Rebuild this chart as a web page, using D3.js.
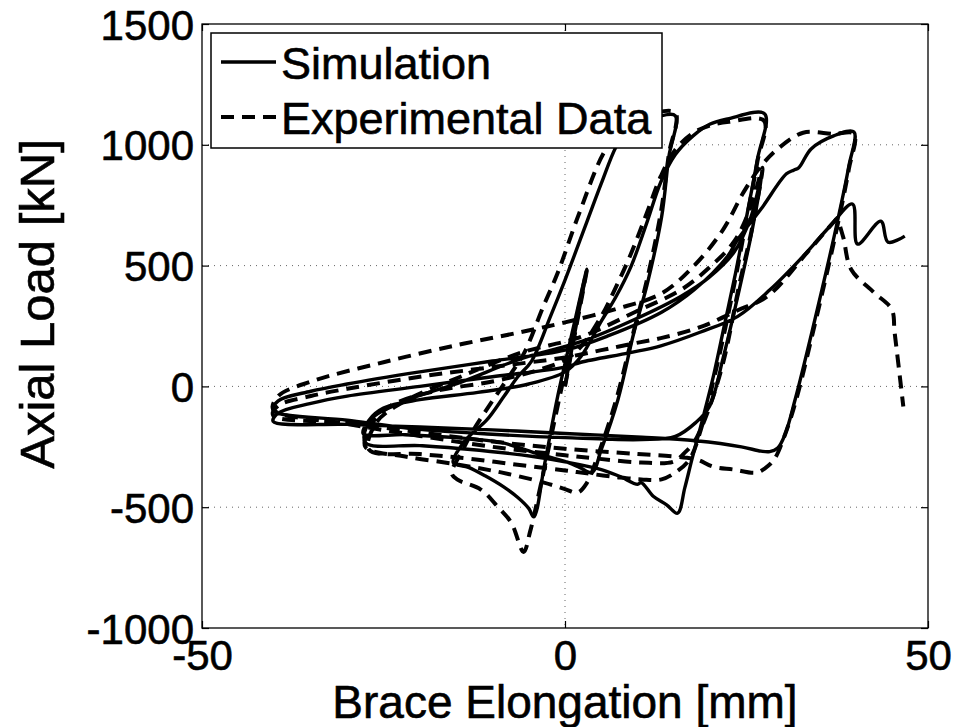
<!DOCTYPE html>
<html>
<head>
<meta charset="utf-8">
<script src="https://cdn.jsdelivr.net/npm/d3@7"></script>
<style>
  body { margin: 0; background: #fff; }
  text { font-family: "Liberation Sans", Arial, sans-serif; fill: #000; stroke: #000; stroke-width: 0.6px; }
</style>
</head>
<body>
<script>
// axis ticks
var xTicks = [-50, 0, 50];
var yTicks = [-1000, -500, 0, 500, 1000, 1500];

// simulation: brace elongation [mm] and axial load [kN], in loading order
var simElong = [0, 1.5, 3,
  1.2, -1, -2.8, -4.3,
  -5, -6.5, -8.5, -11, -13.3, -15.4,
  -14.4, -13, -10.8, -8.4, -6.5, -4.6, -2, 0, 3, 5, 7, 8.5, 10.5, 12.5, 15.2,
  14.3, 13.3, 11.3, 9.5, 7.3, 5, 3.7,
  2, 0.4, -4.3, -8.8, -15, -22, -27.8,
  -27, -25, -20, -12, -5, 0, 2.2, 5, 7, 9.1, 11.3, 13.2, 15.2, 17.6, 20, 22.4, 27.5,
  26.5, 25, 23.5, 22, 20.5, 19, 17.5, 16.5, 15.5,
  14, 12.2, 10.5, 10, 7.5, 5, 0, -4.4, -13.4, -20, -27.5,
  -26.8, -22, -14.4, -6, 2.2, 9.8, 16, 19.8, 23.3, 25.6, 27.2,
  25.8, 24, 21.8, 19.9, 18, 15.2, 10.6, 0, -10, -20, -30, -40.2,
  -39.5, -35, -30, -20, -10, 0, 6, 13.3, 17.8, 22.4, 23.8, 27, 30.5, 31.5, 32.2, 33.9, 37, 39.8,
  39.1, 37.2, 34, 31.7, 30.3, 29.3, 28.2, 27, 24.3, 18, 10.6, 0, -10, -20, -30, -40.2,
  -39.5, -35, -30, -20, -10, 0, 2.2, 9, 13.2, 18.6, 23.8, 28.3, 32.8, 36.5, 39.6,
  40.3, 43.5, 44.5, 46.8];
var simLoad = [0, 245, 485,
  250, -40, -320, -540,
  -505, -460, -415, -370, -335, -315,
  -250, -200, -140, -41, 40, 105, 290, 440, 680, 840, 990, 1060, 1100, 1115, 1120,
  950, 700, 420, 224, -54, -261, -357,
  -335, -315, -274, -232, -212, -200, -195,
  -140, -90, -55, -25, 10, 60, 124, 270, 370, 497, 680, 846, 960, 1036, 1086, 1107, 1128,
  940, 700, 470, 260, 50, -130, -300, -420, -525,
  -490, -456, -398, -405, -372, -344, -312, -290, -260, -245, -232,
  -140, -60, 17, 115, 185, 280, 373, 450, 556, 700, 890,
  650, 400, 120, -83, -150, -207, -220, -212, -198, -178, -140, -100,
  -60, -20, 10, 60, 105, 150, 210, 307, 400, 539, 609, 734, 880, 895, 905, 983, 1037, 1053,
  912, 638, 224, -54, -200, -255, -270, -268, -250, -225, -210, -195, -180, -168, -157, -145,
  -110, -70, -40, 0, 40, 80, 100, 140, 168, 224, 290, 402, 539, 663, 755,
  589, 684, 597, 622];

// experimental data
var expElong = [0, 1.5, 3,
  1, -1.5, -3.5, -4.8, -5.7,
  -7.4, -9.3, -11.6, -14.8, -15.6,
  -14.2, -12.8, -10, -7.5, -5.6, -3, -1, 2, 5.5, 8.5, 11.5, 15.2,
  14.3, 13.2, 11.2, 9.3, 7, 4.6, 3, 1.7, 0, -2.9, -8.8, -15, -22, -27.5,
  -26.5, -24, -18, -10, -4, 0, 2.2, 5, 7, 9.1, 11.3, 13.2, 15.2, 17.6, 20, 22.6, 27.4,
  26.5, 25, 23.5, 22, 20.5, 18.8, 17.2, 15.5, 13.3,
  10.5, 7, 3, 0, -5, -13, -20, -27,
  -26, -22, -14.4, -6, 2.2, 9.8, 16, 19.8, 23.3, 25.6, 27.2,
  25.8, 24, 21.8, 19.6, 17.8, 16.5, 15, 10.5, 4.8, 0, -10, -20, -30, -40.2,
  -39.5, -35, -25, -15, -6.2, 0, 7, 13.3, 17.8, 21.8, 24.6, 27, 29.3, 32.8, 37, 39.8,
  39.1, 37.2, 34.2, 31.8, 30.3, 28.8, 27.5, 26.3, 23.2, 20.4, 18.2, 15, 10, 0, -10, -20, -30, -40.2,
  -39.5, -35, -30, -20, -10, 0, 5, 9, 13.2, 18.6, 23.8, 27.9, 33.4, 37, 37.4,
  38.3, 39.4, 42.5, 45, 45.4, 46.6];
var expLoad = [0, 240, 480,
  200, -150, -430, -600, -685,
  -564, -497, -427, -386, -360,
  -270, -190, -60, 50, 140, 330, 470, 720, 975, 1085, 1125, 1132,
  960, 720, 430, 210, -60, -280, -400, -440, -425, -398, -356, -322, -290, -250,
  -150, -80, -20, 20, 65, 110, 165, 290, 410, 550, 720, 870, 980, 1048, 1080, 1095, 1100,
  930, 690, 450, 230, 30, -170, -300, -350, -385,
  -385, -375, -360, -348, -330, -300, -280, -262,
  -150, -60, 40, 140, 205, 310, 400, 490, 600, 745, 905,
  660, 420, 100, -110, -230, -274, -311, -315, -300, -285, -250, -205, -155, -95,
  -40, 20, 100, 170, 224, 265, 320, 385, 500, 650, 804, 912, 983, 1050, 1045, 1045,
  900, 620, 230, -60, -200, -303, -340, -357, -344, -332, -303, -290, -280, -258, -228, -190, -152, -120,
  -80, -40, -10, 40, 80, 120, 150, 175, 200, 245, 315, 373, 556, 680, 692,
  620, 485, 390, 319, 224, -83];

var margin = {top: 24, right: 25, bottom: 99, left: 202};
var width = 953, height = 727;
var w = width - margin.left - margin.right;
var h = height - margin.top - margin.bottom;

var svg = d3.select("body").append("svg")
    .attr("width", width)
    .attr("height", height);

var g = svg.append("g")
    .attr("transform", "translate(" + margin.left + "," + margin.top + ")");

var x = d3.scaleLinear().domain([-50, 50]).range([0, w]);
var y = d3.scaleLinear().domain([-1000, 1500]).range([h, 0]);

// dotted grid
g.selectAll(".hgrid")
    .data(yTicks.slice(1, -1))
  .enter().append("line")
    .attr("x1", 0).attr("x2", w)
    .attr("y1", function(d) { return y(d); })
    .attr("y2", function(d) { return y(d); })
    .attr("stroke", "#666").attr("stroke-width", 1)
    .attr("stroke-dasharray", "1,5");
g.selectAll(".vgrid")
    .data(xTicks.slice(1, -1))
  .enter().append("line")
    .attr("y1", 0).attr("y2", h)
    .attr("x1", function(d) { return x(d); })
    .attr("x2", function(d) { return x(d); })
    .attr("stroke", "#666").attr("stroke-width", 1)
    .attr("stroke-dasharray", "1,5");

// data lines
var line = d3.line()
    .x(function(d) { return x(d[0]); })
    .y(function(d) { return y(d[1]); })
    .curve(d3.curveCatmullRom.alpha(0.5));

var simPts = simElong.map(function(v, i) { return [v, simLoad[i]]; });
var expPts = expElong.map(function(v, i) { return [v, expLoad[i]]; });

g.append("path")
    .datum(expPts)
    .attr("d", line)
    .attr("fill", "none")
    .attr("stroke", "#000")
    .attr("stroke-width", 4)
    .attr("stroke-dasharray", "13,8");

g.append("path")
    .datum(simPts)
    .attr("d", line)
    .attr("fill", "none")
    .attr("stroke", "#000")
    .attr("stroke-width", 3.4)
    .attr("stroke-linejoin", "round");

// axes, ticks pointing inward like matlab
var fmt = function(d) { return String(d); };
var xAxis = d3.axisBottom(x).tickValues(xTicks).tickFormat(fmt).tickSizeInner(-7).tickSizeOuter(0).tickPadding(12);
var yAxis = d3.axisLeft(y).tickValues(yTicks).tickFormat(fmt).tickSizeInner(-7).tickSizeOuter(0).tickPadding(8);

var gx = g.append("g").attr("transform", "translate(0," + h + ")").call(xAxis);
var gy = g.append("g").call(yAxis);
g.append("g").call(d3.axisTop(x).tickValues(xTicks).tickSizeInner(-7).tickSizeOuter(0).tickFormat(""));
g.append("g").attr("transform", "translate(" + w + ",0)")
    .call(d3.axisRight(y).tickValues(yTicks).tickSizeInner(-7).tickSizeOuter(0).tickFormat(""));

g.append("rect")
    .attr("width", w).attr("height", h)
    .attr("fill", "none").attr("stroke", "#000").attr("stroke-width", 1.3);

g.selectAll(".domain").remove();
g.selectAll(".tick line").attr("stroke", "#000").attr("stroke-width", 1.2);
gx.selectAll("text").style("font-size", "42px").attr("dy", "0.72em");
gy.selectAll("text").style("font-size", "42px").attr("dy", "0.36em");
g.selectAll(".tick text").attr("fill", "#000").style("font-family", "'Liberation Sans', Arial, sans-serif");

// axis labels
svg.append("text")
    .attr("text-anchor", "middle")
    .attr("x", margin.left + w / 2)
    .attr("y", 718)
    .style("font-size", "46px")
    .text("Brace Elongation [mm]");
svg.append("text")
    .attr("text-anchor", "middle")
    .attr("transform", "translate(54," + (margin.top + h / 2 - 22) + ")rotate(-90)")
    .style("font-size", "49px")
    .text("Axial Load [kN]");

// legend
var legend = svg.append("g");
legend.append("rect")
    .attr("x", 211).attr("y", 33)
    .attr("width", 451).attr("height", 115)
    .attr("fill", "#fff").attr("stroke", "#000").attr("stroke-width", 1.5);

var legendItems = [
  {name: "Simulation", dash: null, sw: 3.4},
  {name: "Experimental Data", dash: "13,8", sw: 4}
];
var item = legend.selectAll(".item")
    .data(legendItems)
  .enter().append("g")
    .attr("transform", function(d, i) { return "translate(0," + (62 + i * 55) + ")"; });
item.append("line")
    .attr("x1", 221).attr("x2", 276)
    .attr("stroke", "#000")
    .attr("stroke-width", function(d) { return d.sw; })
    .attr("stroke-dasharray", function(d) { return d.dash; });
item.append("text")
    .attr("x", 281).attr("y", 17)
    .style("font-size", "45px")
    .text(function(d) { return d.name; });
</script>
</body>
</html>
